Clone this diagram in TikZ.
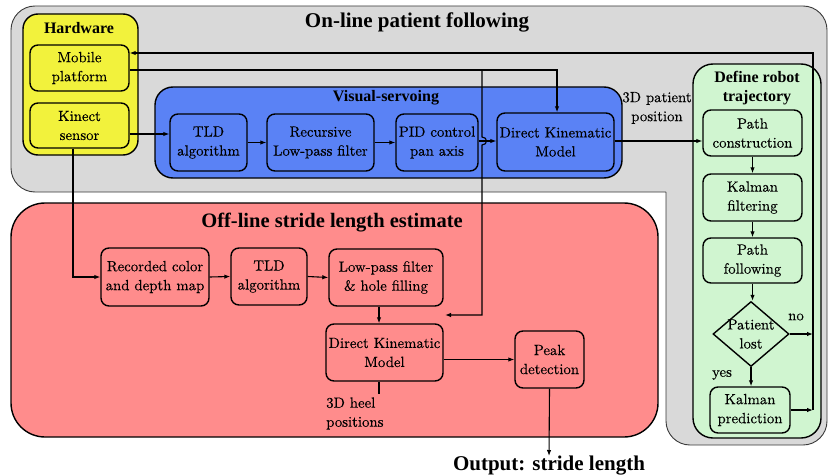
\documentclass[tikz,border=0pt]{standalone}
\usepackage{fontspec}
\setmainfont{Liberation Serif}
\newfontfamily\bodyrm{lmroman10-regular.otf}[FakeBold=0.2]
\usetikzlibrary{shapes.geometric,arrows.meta}
\definecolor{grayfill}{HTML}{D9D9D9}
\definecolor{grayline}{HTML}{3A3A3A}
\definecolor{yellowc}{HTML}{F2F23C}
\definecolor{bluec}{HTML}{5A82F5}
\definecolor{pinkc}{HTML}{FF8C8C}
\definecolor{greenc}{HTML}{D0F5D0}
\begin{document}
\begin{tikzpicture}[x=1pt,y=-1pt,
  box/.style={draw=black, line width=1.4pt, rounded corners=8pt, align=center, inner sep=0pt, font=\bodyrm\fontsize{14.8}{19}\selectfont},
  grp/.style={draw=black, line width=1.4pt, inner sep=0pt},
  conn/.style={line width=1.1pt},
  arr/.style={conn, -{Latex[length=6pt,width=4.5pt]}},
  gtitle/.style={font=\bfseries\fontsize{16}{19}\selectfont, align=center, inner sep=0pt},
  bigtitle/.style={font=\bfseries\fontsize{21}{24}\selectfont, inner sep=0pt},
  lbl/.style={font=\bodyrm\fontsize{14.8}{19}\selectfont, align=center, inner sep=0pt}]
\useasboundingbox (0,0) rectangle (829,476);

% on-line region (L shape)
\filldraw[fill=grayfill, draw=grayline, line width=0.9pt, rounded corners=24pt]
  (666,192) -- (11,192) -- (11,6) -- (827,6) -- (827,445) -- (666,445) -- (666,192);
\node[bigtitle] (ontitle) at (417,22) {On-line patient following};

% off-line region
\node[grp, fill=pinkc, rounded corners=34pt, minimum width=647pt, minimum height=234pt] (offgrp) at (334.5,320) {};
\node[bigtitle, font=\bfseries\fontsize{20.5}{24}\selectfont] (offtitle) at (332,223) {Off-line stride length estimate};

% hardware group
\node[grp, fill=yellowc, rounded corners=15pt, minimum width=115pt, minimum height=141pt] (hwgrp) at (80.5,84.5) {};
\node[gtitle] (hwtitle) at (79,28) {Hardware};
\node[box, fill=yellowc, minimum width=99pt, minimum height=46pt] (mp) at (79.5,68) {Mobile\\platform};
\node[box, fill=yellowc, minimum width=99pt, minimum height=45pt] (ks) at (79.5,125.5) {Kinect\\sensor};

% visual servoing group
\node[grp, fill=bluec, rounded corners=18pt, minimum width=467pt, minimum height=91pt] (vsgrp) at (388.5,132.5) {};
\node[gtitle] (vstitle) at (386,98) {Visual-servoing};
\node[box, fill=bluec, minimum width=77pt, minimum height=57pt] (tldA) at (208.5,142.5) {TLD\\algorithm};
\node[box, fill=bluec, minimum width=107pt, minimum height=57pt] (rlp) at (320.5,142.5) {Recursive\\Low-pass filter};
\node[box, fill=bluec, minimum width=82pt, minimum height=57pt] (pid) at (437,142.5) {PID control\\pan axis};
\node[box, fill=bluec, minimum width=117pt, minimum height=58pt] (dkmA) at (555.5,142) {Direct Kinematic\\Model};
\node[lbl] (pos3d) at (657,108) {3D patient\\position};

% define robot trajectory group
\node[grp, fill=greenc, rounded corners=20pt, minimum width=128pt, minimum height=374pt] (trgrp) at (757,251) {};
\node[gtitle] (trtitle) at (757,88.5) {Define robot\\trajectory};
\node[box, fill=greenc, minimum width=99pt, minimum height=46pt] (pc) at (752.5,133) {Path\\construction};
\node[box, fill=greenc, minimum width=99pt, minimum height=47pt] (kf) at (752.5,197.5) {Kalman\\filtering};
\node[box, fill=greenc, minimum width=99pt, minimum height=45pt] (pf) at (752.5,260.5) {Path\\following};
\node[draw=black, line width=1.4pt, diamond, fill=greenc, inner sep=0pt, minimum width=76pt, minimum height=65pt, align=center, font=\bodyrm\fontsize{14.8}{19}\selectfont] (pl) at (751,334) {\makebox[26pt]{Patient}\\\makebox[26pt]{lost}};
\node[box, fill=greenc, minimum width=80pt, minimum height=46pt] (kp) at (750,410) {Kalman\\prediction};
\node[lbl] (nolbl) at (796,317) {no};
\node[lbl] (yeslbl) at (722,375) {yes};

% off-line boxes
\node[box, fill=pinkc, minimum width=108pt, minimum height=58pt] (rcd) at (155,277) {Recorded color\\and depth map};
\node[box, fill=pinkc, minimum width=76pt, minimum height=57pt] (tldB) at (269,276.5) {TLD\\algorithm};
\node[box, fill=pinkc, minimum width=114pt, minimum height=57pt] (lpf) at (386,277.5) {Low-pass filter\\\& hole filling};
\node[box, fill=pinkc, minimum width=117pt, minimum height=57pt] (dkmB) at (384.5,352.5) {Direct Kinematic\\Model};
\node[box, fill=pinkc, minimum width=69pt, minimum height=57pt] (peak) at (549.5,359.5) {Peak\\detection};
\node[lbl, align=left, anchor=west] (heel) at (326,413.5) {3D heel\\positions};
\node[bigtitle, anchor=north] (out) at (549,456) {Output: stride length};

% connectors: on-line
\draw[arr] (ks.east |- 0,134) -- (tldA.west |- 0,134);
\draw[arr] (tldA.east) -- (rlp.west);
\draw[arr] (rlp.east) -- (pid.west);
\draw[arr] (pid.east |- 0,141) -- (dkmA.west |- 0,141);
\draw[arr] (dkmA.east |- 0,141) -- (pc.west |- 0,141);
\draw[arr] (pc.south) -- (pc.south |- kf.north);
\draw[arr] (kf.south) -- (kf.south |- pf.north);
\draw[arr] (pf.south) -- (pf.south |- pl.north);
\draw[arr] (pl.south) -- (pl.south |- kp.north);
\coordinate (fbno) at (813,334);
\coordinate (fbkp) at (813,410);
\coordinate (fbtop) at (813,53);
\draw[arr] (pl.east) -- (fbno);
\draw[arr] (kp.east) -- (fbkp);
\draw[arr] (fbkp) -- (fbtop) -- (mp.east |- fbtop);
\coordinate (odo) at (557,70);
\draw[arr] (mp.east |- odo) -- (odo) -- (dkmA.north -| odo);
\coordinate (odobr) at (482,70);
\coordinate (odoend) at (445,315);
\draw[arr] (odobr) -- (482,137) .. controls (488,137) and (488,145) .. (482,145) -- (482,315) -- (odoend);

% connectors: off-line
\draw[arr] (ks.south -| 73,0) -- (73,277) -- (rcd.west);
\draw[arr] (rcd.east) -- (tldB.west);
\draw[arr] (tldB.east) -- (lpf.west);
\draw[arr] (lpf.south -| 379,0) -- (dkmB.north -| 379,0);
\draw[arr] (dkmB.east |- peak.west) -- (peak.west);
\draw[conn] (dkmB.south -| 379,0) -- (379,394);
\draw[arr] (peak.south) -- (out.north);
\end{tikzpicture}
\end{document}
